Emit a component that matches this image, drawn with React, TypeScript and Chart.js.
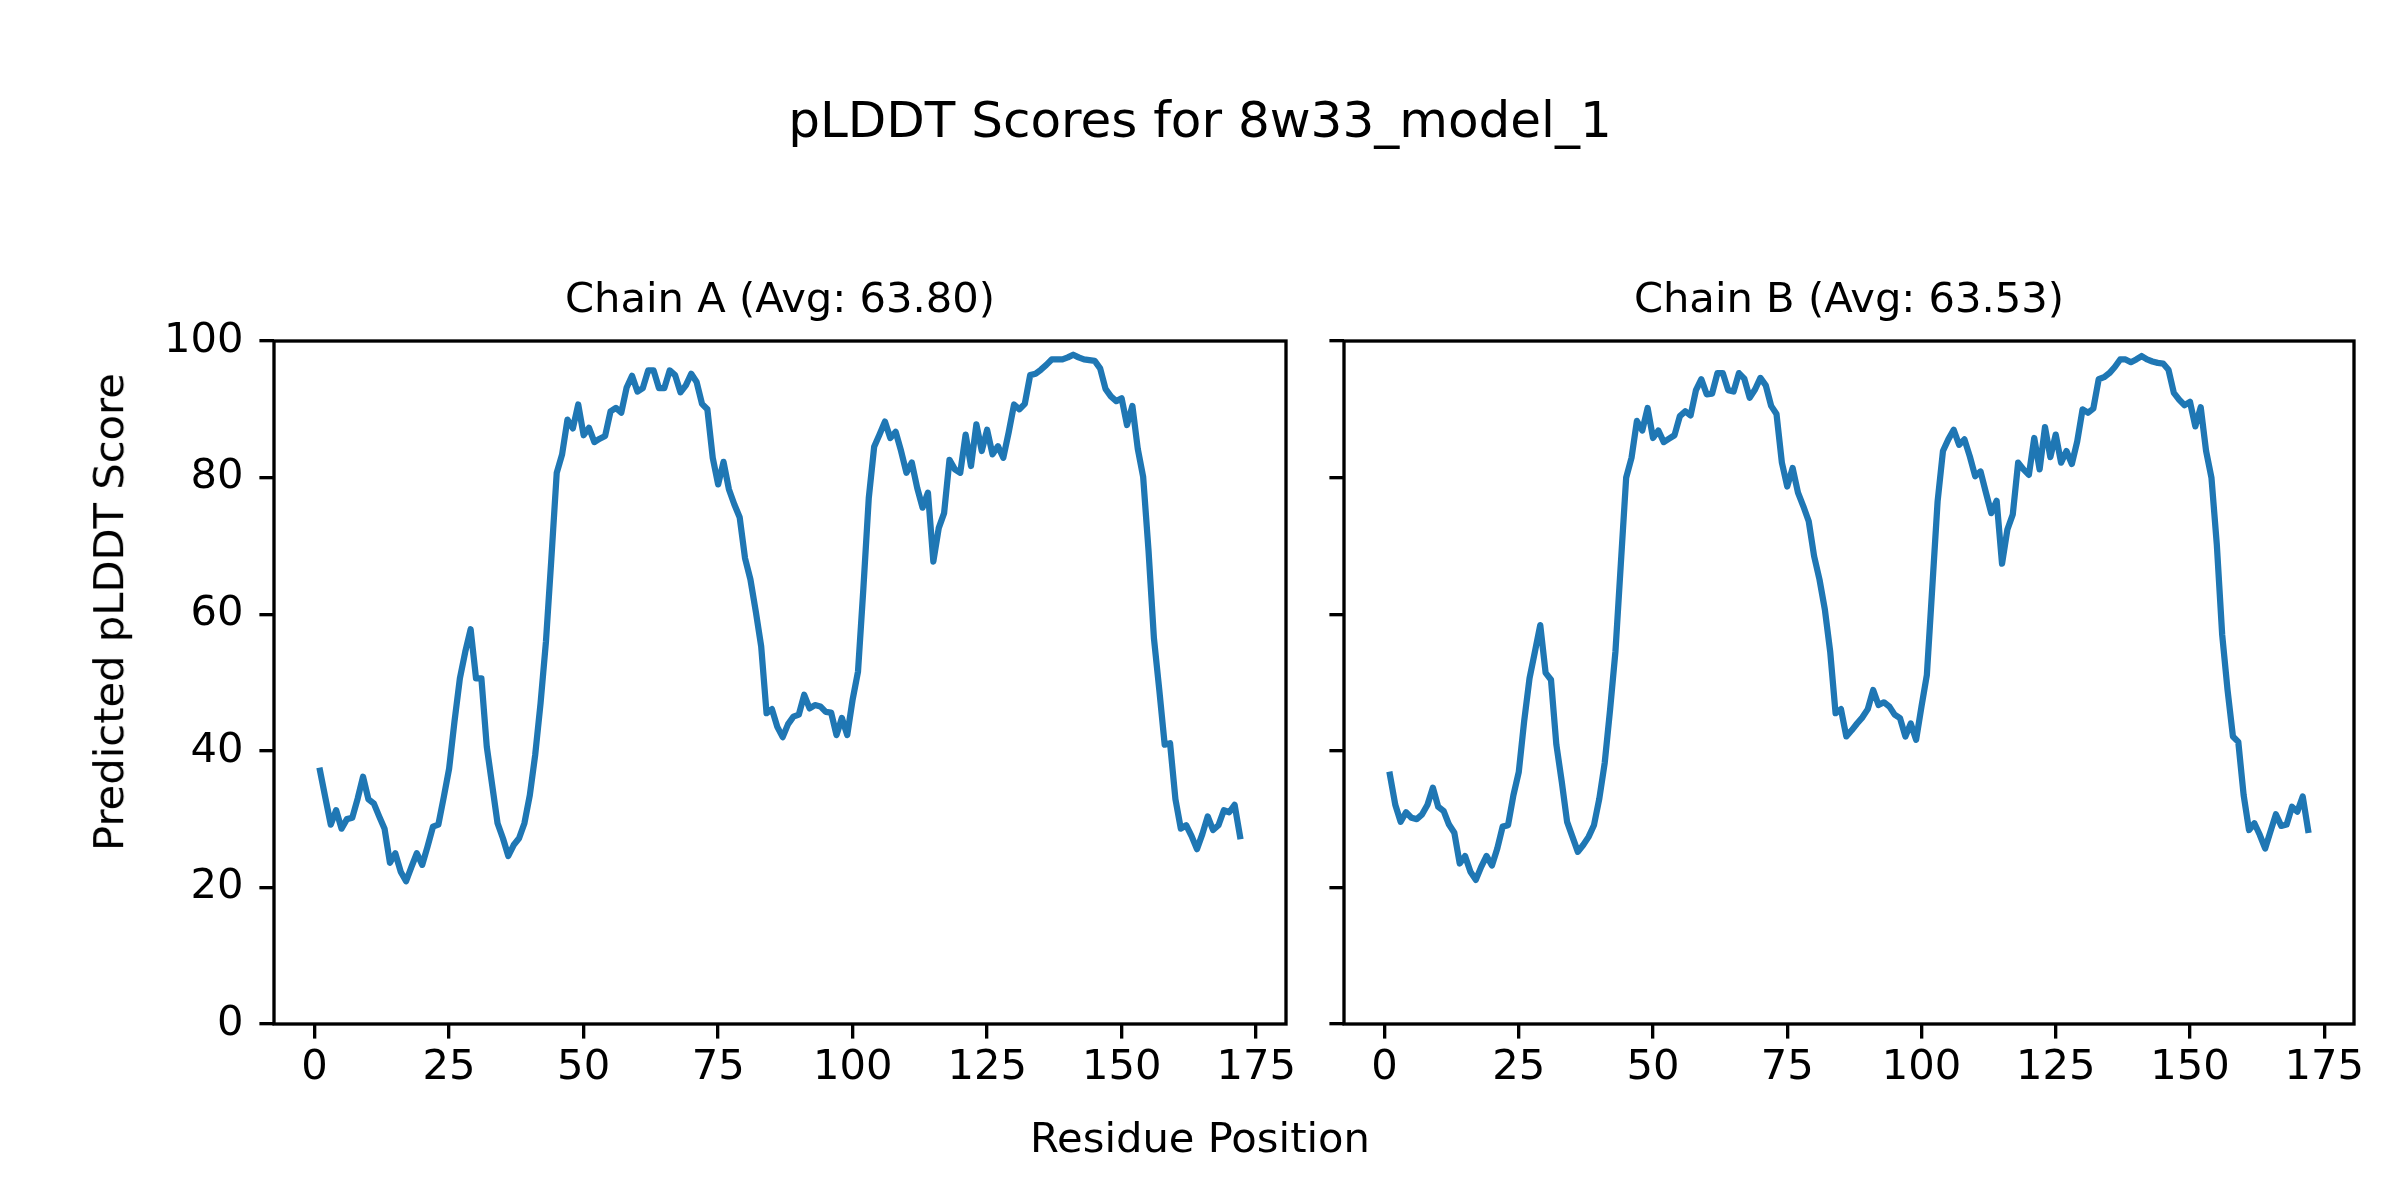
import React, { useEffect, useRef } from 'react';
import { Chart, registerables } from 'chart.js';

Chart.register(...registerables);

// ---- data ----
const figureTitle = 'pLDDT Scores for 8w33_model_1';
const xAxisLabel = 'Residue Position';
const yAxisLabel = 'Predicted pLDDT Score';
const chainATitle = 'Chain A (Avg: 63.80)';
const chainBTitle = 'Chain B (Avg: 63.53)';

const xTicks = [0, 25, 50, 75, 100, 125, 150, 175];
const yTicks = [0, 20, 40, 60, 80, 100];

const chainA = [
  37.1, 33.1, 29.2, 31.3, 28.6, 30.0, 30.2, 33.0, 36.2, 32.9,
  32.3, 30.4, 28.6, 23.6, 25.0, 22.3, 20.9, 23.0, 25.0, 23.3,
  26.0, 28.9, 29.2, 33.2, 37.4, 44.3, 50.6, 54.5, 57.8, 50.6,
  50.6, 40.6, 35.0, 29.4, 27.2, 24.6, 26.2, 27.2, 29.4, 33.5,
  39.4, 47.0, 56.0, 68.1, 80.7, 83.4, 88.5, 87.2, 90.7, 86.2,
  87.3, 85.2, 85.7, 86.1, 89.7, 90.2, 89.5, 93.2, 94.9, 92.6,
  93.1, 95.7, 95.7, 93.1, 93.1, 95.7, 95.0, 92.5, 93.5, 95.2,
  94.0, 90.8, 90.0, 82.9, 79.0, 82.3, 78.3, 76.1, 74.2, 68.2,
  65.1, 60.4, 55.3, 45.5, 46.1, 43.5, 42.0, 43.9, 45.0, 45.3,
  48.2, 46.2, 46.7, 46.5, 45.7, 45.6, 42.3, 44.8, 42.3, 47.5,
  51.6, 63.8, 77.0, 84.5, 86.3, 88.2, 85.8, 86.7, 83.9, 80.7,
  82.2, 78.5, 75.6, 77.8, 67.7, 72.6, 74.8, 82.6, 81.2, 80.7,
  86.3, 81.7, 87.8, 83.9, 87.0, 83.4, 84.6, 82.9, 86.6, 90.7,
  90.0, 90.8, 95.0, 95.2, 95.8, 96.5, 97.3, 97.3, 97.3, 97.6,
  98.0, 97.6, 97.3, 97.2, 97.1, 96.0, 93.0, 91.9, 91.2, 91.6,
  87.7, 90.5, 84.2, 80.1, 69.3, 56.5, 48.9, 40.9, 41.1, 32.9,
  28.6, 29.1, 27.5, 25.6, 27.8, 30.4, 28.4, 29.1, 31.3, 31.0,
  32.1, 27.5,
];

const chainB = [
  36.5, 32.1, 29.6, 31.0, 30.2, 30.0, 30.7, 32.1, 34.6, 31.8,
  31.2, 29.2, 28.0, 23.5, 24.6, 22.3, 21.1, 23.0, 24.6, 23.2,
  25.7, 28.9, 29.1, 33.5, 36.9, 44.3, 50.6, 54.5, 58.4, 51.4,
  50.4, 40.9, 35.5, 29.6, 27.4, 25.2, 26.2, 27.4, 29.1, 33.0,
  38.2, 46.0, 54.5, 67.3, 80.0, 82.9, 88.3, 86.9, 90.2, 85.8,
  86.9, 85.2, 85.7, 86.2, 89.0, 89.7, 89.1, 92.8, 94.4, 92.2,
  92.3, 95.3, 95.3, 92.8, 92.6, 95.3, 94.5, 91.7, 92.9, 94.6,
  93.5, 90.5, 89.3, 82.2, 78.7, 81.4, 77.8, 75.8, 73.6, 68.5,
  65.1, 60.7, 54.5, 45.5, 46.1, 42.1, 43.0, 44.0, 44.9, 46.1,
  48.9, 46.7, 47.1, 46.5, 45.3, 44.8, 42.1, 44.0, 41.6, 46.5,
  51.1, 63.8, 76.5, 83.9, 85.6, 87.0, 84.8, 85.6, 83.1, 80.2,
  80.9, 77.8, 74.8, 76.6, 67.4, 72.4, 74.6, 82.2, 81.2, 80.4,
  85.8, 81.2, 87.4, 83.0, 86.3, 82.2, 83.9, 82.0, 85.3, 90.0,
  89.5, 90.1, 94.4, 94.7, 95.3, 96.2, 97.3, 97.3, 96.9, 97.3,
  97.8, 97.3, 97.0, 96.8, 96.7, 95.8, 92.4, 91.4, 90.6, 91.1,
  87.5, 90.3, 83.9, 80.0, 70.2, 57.0, 48.9, 42.1, 41.3, 33.5,
  28.4, 29.4, 27.7, 25.7, 28.2, 30.7, 29.0, 29.2, 31.8, 31.1,
  33.3, 28.4,
];

// ---- styling ----
const W = 2400;
const H = 1200;
const FONT = 'DejaVu Sans';
const FS = 41.67; // 10pt @ 300dpi
const SPINE = 3.33;
const TICK_LEN = 14.6;
const LINE_COLOR = '#1f77b4';
const X_MIN = -7.55;
const X_MAX = 180.55;

const framePlugin = {
  id: 'frame',
  afterDatasetsDraw(chart: any) {
    const { ctx, chartArea: a } = chart;
    ctx.save();
    ctx.strokeStyle = '#000';
    ctx.lineWidth = SPINE;
    ctx.lineJoin = 'miter';
    ctx.strokeRect(a.left, a.top, a.right - a.left, a.bottom - a.top);
    ctx.restore();
  },
};

function makeConfig(values: number[], title: string, padLeft: number, padRight: number, yWidth: number, showYLabels: boolean): any {
  const tickFont = { family: FONT, size: FS, lineHeight: 1.2 };
  const grid = {
    display: true,
    drawOnChartArea: false,
    drawTicks: true,
    tickLength: TICK_LEN,
    tickWidth: SPINE,
    tickColor: '#000',
    color: '#000',
    lineWidth: SPINE,
  };
  return {
    type: 'line',
    data: {
      datasets: [
        {
          data: values.map((v, i) => ({ x: i + 1, y: v })),
          borderColor: LINE_COLOR,
          backgroundColor: LINE_COLOR,
          borderWidth: 6.25,
          pointRadius: 0,
          pointHoverRadius: 0,
          tension: 0,
          fill: false,
          borderJoinStyle: 'round',
          borderCapStyle: 'square',
        },
      ],
    },
    options: {
      animation: false,
      responsive: false,
      maintainAspectRatio: false,
      devicePixelRatio: 1,
      events: [],
      layout: { padding: { top: 276.5, left: padLeft, right: padRight, bottom: 0 } },
      plugins: {
        legend: { display: false },
        tooltip: { enabled: false },
        title: {
          display: true,
          text: title,
          fullSize: false,
          color: '#000',
          font: { family: FONT, size: FS, weight: 'normal', lineHeight: 1.2 },
          padding: { top: 0, bottom: 14.5 },
        },
      },
      scales: {
        x: {
          type: 'linear',
          min: X_MIN,
          max: X_MAX,
          afterBuildTicks: (s: any) => {
            s.ticks = xTicks.map((v) => ({ value: v }));
          },
          afterFit: (s: any) => {
            s.height = H - 1024;
          },
          ticks: {
            autoSkip: false,
            maxRotation: 0,
            minRotation: 0,
            color: '#000',
            font: tickFont,
            padding: 5,
            callback: (v: any) => String(v),
          },
          grid,
          border: { display: false },
        },
        y: {
          type: 'linear',
          min: 0,
          max: 100,
          afterBuildTicks: (s: any) => {
            s.ticks = yTicks.map((v) => ({ value: v }));
          },
          afterFit: (s: any) => {
            s.width = yWidth;
          },
          ticks: {
            autoSkip: false,
            color: '#000',
            font: tickFont,
            padding: 16,
            callback: (v: any) => (showYLabels ? String(v) : ''),
          },
          grid,
          border: { display: false },
        },
      },
    },
    plugins: [framePlugin],
  };
}

export default function App() {
  const refA = useRef<HTMLCanvasElement | null>(null);
  const refB = useRef<HTMLCanvasElement | null>(null);

  useEffect(() => {
    document.body.style.margin = '0';
    const a = new Chart(refA.current as HTMLCanvasElement, makeConfig(chainA, chainATitle, 0, W - 1286, 274, true));
    const b = new Chart(refB.current as HTMLCanvasElement, makeConfig(chainB, chainBTitle, 1310, W - 2354, 34, false));
    return () => {
      a.destroy();
      b.destroy();
    };
  }, []);

  const canvasStyle: React.CSSProperties = {
    position: 'absolute',
    left: 0,
    top: 0,
    width: W,
    height: H,
  };
  const textBase: React.CSSProperties = {
    position: 'absolute',
    fontFamily: "'DejaVu Sans'",
    color: '#000',
    whiteSpace: 'nowrap',
  };

  return (
    <div style={{ position: 'absolute', left: 0, top: 0, width: W, height: H, background: '#fff', overflow: 'hidden' }}>
      <canvas ref={refA} width={W} height={H} style={canvasStyle} />
      <canvas ref={refB} width={W} height={H} style={canvasStyle} />
      <div style={{ ...textBase, left: 0, top: 95, width: W, textAlign: 'center', fontSize: 50, lineHeight: '50px' }}>
        {figureTitle}
      </div>
      <div style={{ ...textBase, left: 0, top: 1117, width: W, textAlign: 'center', fontSize: FS, lineHeight: FS + 'px' }}>
        {xAxisLabel}
      </div>
      <div
        style={{
          ...textBase,
          left: 109,
          top: 612,
          fontSize: FS,
          lineHeight: FS + 'px',
          transform: 'translate(-50%, -50%) rotate(-90deg)',
        }}
      >
        {yAxisLabel}
      </div>
    </div>
  );
}
